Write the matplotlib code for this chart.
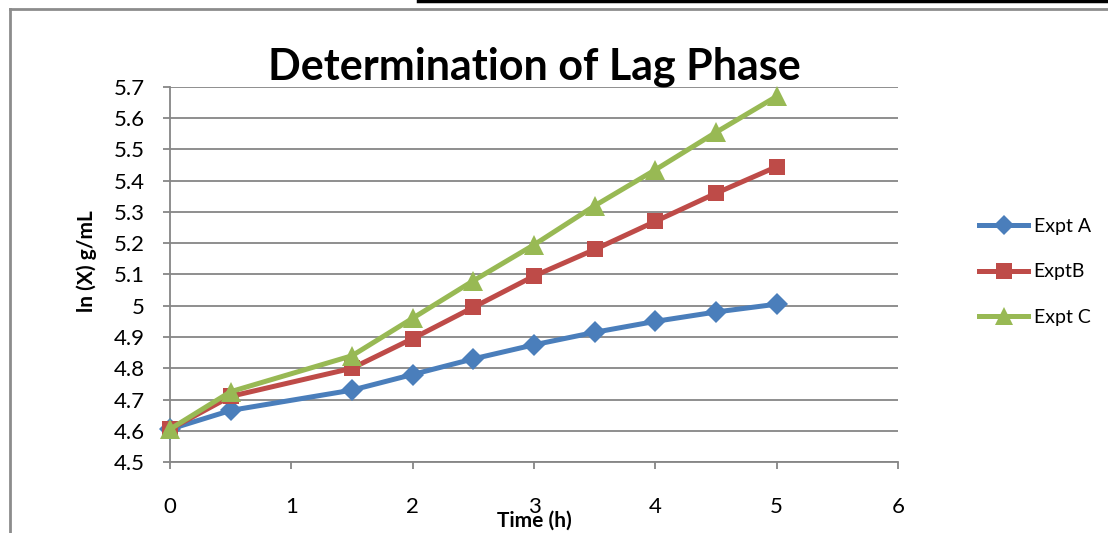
import matplotlib.pyplot as plt
from matplotlib.lines import Line2D

plt.rcParams['font.family'] = ['Lato', 'DejaVu Sans']

time_h = [0, 0.5, 1.5, 2, 2.5, 3, 3.5, 4, 4.5, 5]
expt_a = [4.605, 4.665, 4.73, 4.78, 4.83, 4.875, 4.915, 4.95, 4.98, 5.005]
expt_b = [4.605, 4.71, 4.80, 4.895, 4.995, 5.095, 5.18, 5.27, 5.36, 5.445]
expt_c = [4.605, 4.725, 4.84, 4.96, 5.08, 5.195, 5.32, 5.435, 5.555, 5.67]
names = ['Expt A', 'ExptB', 'Expt C']

y_ticks = [4.5, 4.6, 4.7, 4.8, 4.9, 5.0, 5.1, 5.2, 5.3, 5.4, 5.5, 5.6, 5.7]
y_labels = ['4.5', '4.6', '4.7', '4.8', '4.9', '5', '5.1', '5.2', '5.3', '5.4', '5.5', '5.6', '5.7']
x_ticks = [0, 1, 2, 3, 4, 5, 6]

colors = ['#4A7EBB', '#BE4B48', '#98B954']
markers = ['D', 's', '^']
msizes = [11, 12, 14]
grey = '#868686'

fig = plt.figure(figsize=(11.08, 5.33), dpi=100)
ax = fig.add_axes([0.1534, 0.1332, 0.6571, 0.7036])

for ys, c, m, ms, n in zip([expt_a, expt_b, expt_c], colors, markers, msizes, names):
    ax.plot(time_h, ys, color=c, lw=3.6, marker=m, markersize=ms, label=n,
            markeredgewidth=0, zorder=3, clip_on=False)

ax.set_xlim(0, 6)
ax.set_ylim(4.5, 5.7)
ax.set_yticks(y_ticks)
ax.set_yticklabels(y_labels)
ax.set_xticks(x_ticks)
ax.yaxis.grid(True, color=grey, lw=1.3)
ax.set_axisbelow(True)
for s in ['top', 'right']:
    ax.spines[s].set_visible(False)
for s in ['left', 'bottom']:
    ax.spines[s].set_color(grey)
    ax.spines[s].set_linewidth(1.3)
ax.tick_params(axis='y', colors=grey, length=5, width=1.3, labelcolor='black',
               labelsize=16, pad=13)
ax.tick_params(axis='x', colors=grey, length=5, width=1.3, labelcolor='black',
               labelsize=16, pad=20)

ax.set_title('Determination of Lag Phase', fontsize=31, fontweight='bold', pad=5)
ax.set_ylabel('ln (X) g/mL', fontsize=15, fontweight='bold')
ax.yaxis.set_label_coords(-0.100, 0.535)
ax.set_xlabel('Time (h)', fontsize=15, fontweight='bold')
ax.xaxis.set_label_coords(0.5, -0.13)

handles = [Line2D([], [], color=c, lw=3.6, marker=m, markersize=ms - 1, markeredgewidth=0)
           for c, m, ms in zip(colors, markers, msizes)]
fig.legend(handles, names, loc='center left', bbox_to_anchor=(0.868, 0.49),
           frameon=False, fontsize=14, labelspacing=1.45, handlelength=2.5,
           handletextpad=0.3)

# chart frame
fig.add_artist(Line2D([0.009, 0.009], [0, 0.983], color='#8c8c8c', lw=2,
                      transform=fig.transFigure))
fig.add_artist(Line2D([0.009, 1], [0.983, 0.983], color='#8c8c8c', lw=2,
                      transform=fig.transFigure))
fig.add_artist(Line2D([0.377, 1], [0.998, 0.998], color='black', lw=2.5,
                      transform=fig.transFigure))

fig.savefig('out.png', dpi=100)
